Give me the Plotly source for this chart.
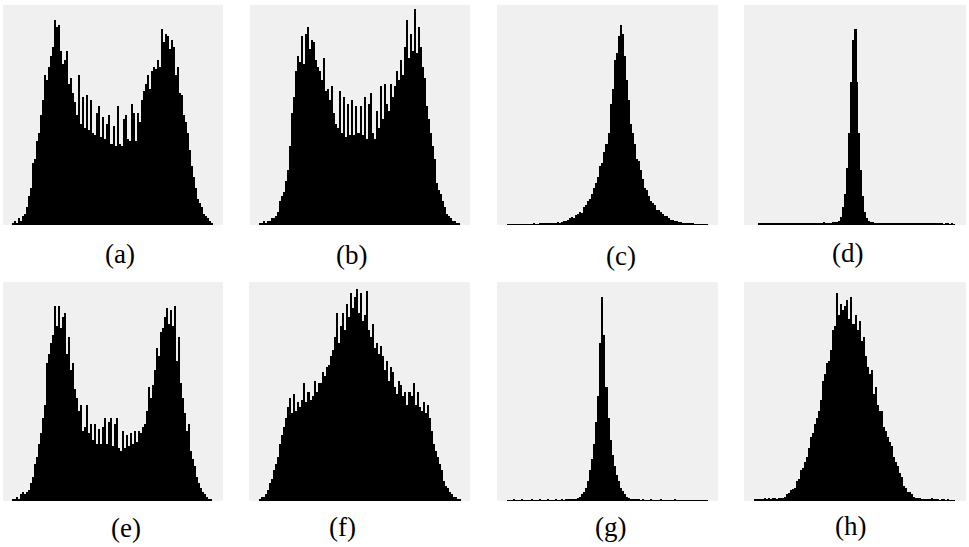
import plotly.graph_objects as go

labels = ["(a)", "(b)", "(c)", "(d)", "(e)", "(f)", "(g)", "(h)"]
bins = list(range(100))

hist_a = [1, 2, 1, 3, 2, 4, 5, 8, 13, 17,
          28, 30, 38, 42, 50, 57, 68, 66, 72, 77,
          81, 93, 90, 91, 79, 73, 75, 79, 64, 67,
          60, 56, 50, 68, 46, 58, 44, 59, 43, 57,
          42, 41, 51, 54, 40, 49, 39, 46, 50, 37,
          45, 36, 54, 37, 36, 48, 50, 39, 38, 55,
          51, 38, 51, 47, 57, 61, 64, 68, 62, 70,
          72, 71, 75, 72, 89, 83, 87, 86, 80, 84,
          81, 68, 72, 60, 59, 50, 47, 42, 34, 27,
          22, 17, 12, 10, 8, 5, 4, 3, 2, 1]

hist_b = [1, 1, 2, 1, 2, 2, 3, 3, 4, 6,
          11, 13, 15, 20, 25, 36, 51, 58, 70, 77,
          74, 86, 73, 87, 90, 80, 84, 83, 75, 72,
          70, 66, 76, 61, 62, 57, 63, 51, 46, 44,
          61, 42, 58, 40, 55, 41, 57, 41, 54, 42,
          54, 41, 58, 39, 55, 60, 42, 39, 52, 44,
          63, 48, 64, 55, 52, 64, 58, 63, 70, 66,
          75, 68, 81, 93, 76, 87, 79, 98, 78, 90,
          81, 72, 67, 54, 48, 42, 36, 30, 19, 16,
          14, 11, 8, 5, 4, 3, 2, 2, 1, 1]

hist_c = [0.2, 0.3, 0.2, 0.3, 0.3, 0.2, 0.3, 0.4, 0.3, 0.3,
          0.3, 0.4, 0.3, 0.5, 0.4, 0.4, 0.5, 0.6, 0.5, 0.6,
          0.7, 0.8, 0.7, 0.9, 1.0, 1.2, 1.1, 1.5, 2.0, 1.8,
          2.5, 3.0, 3.5, 3.0, 4.5, 5.0, 6.0, 5.5, 8.0, 9.0,
          11, 12, 14, 17, 19, 22, 27, 28, 33, 37,
          42, 55, 62, 75, 78, 86, 91, 87, 77, 66,
          57, 46, 42, 37, 30, 29, 25, 21, 17, 16,
          13, 11, 10, 9, 7, 7, 6, 5, 4, 4,
          3, 2.5, 2.5, 2, 1.8, 1.5, 1.2, 1.0, 0.9, 0.8,
          0.6, 0.5, 0.5, 0.4, 0.4, 0.3, 0.4, 0.3, 0.3, 0.2]

hist_d = [0.6, 0.8, 0.5, 0.9, 0.7, 0.6, 1.0, 0.7, 0.8, 0.6,
          0.9, 0.7, 1.0, 0.8, 0.6, 0.9, 1.1, 0.7, 0.8, 1.0,
          0.7, 0.9, 0.6, 0.8, 1.0, 0.7, 0.9, 0.8, 1.1, 0.9,
          0.8, 1.0, 0.9, 1.2, 0.8, 1.0, 1.1, 0.9, 1.2, 1.3,
          1.2, 2.0, 3.5, 8, 14, 26, 42, 65, 84, 89,
          65, 42, 25, 13, 6, 3, 1.8, 1.5, 1.2, 1.0,
          0.9, 1.1, 0.8, 1.0, 0.7, 0.9, 1.0, 0.8, 0.7, 0.9,
          0.6, 0.8, 1.0, 0.7, 0.8, 0.6, 0.9, 0.7, 0.8, 0.6,
          0.7, 0.9, 0.6, 0.8, 0.7, 0.5, 0.8, 0.6, 0.7, 0.5,
          0.6, 0.7, 0.5, 0.6, 0.4, 0.6, 0.5, 0.4, 0.5, 0.4]

hist_e = [1, 1, 2, 1, 3, 4, 3, 4, 5, 8,
          11, 17, 20, 26, 31, 38, 44, 63, 67, 72,
          76, 89, 80, 89, 79, 84, 86, 67, 75, 60,
          63, 51, 47, 41, 44, 32, 34, 44, 31, 35,
          28, 35, 26, 33, 26, 34, 38, 26, 36, 38,
          25, 35, 38, 24, 23, 32, 24, 30, 25, 31,
          26, 32, 27, 32, 31, 34, 35, 41, 52, 47,
          53, 60, 70, 66, 77, 79, 84, 88, 81, 87,
          80, 89, 64, 75, 54, 47, 40, 32, 35, 23,
          19, 16, 11, 8, 6, 4, 3, 2, 1, 1]

hist_f = [1, 2, 2, 3, 5, 8, 10, 14, 17, 20,
          26, 30, 34, 38, 43, 47, 40, 49, 41, 45,
          43, 46, 54, 45, 50, 46, 48, 55, 50, 54,
          54, 59, 57, 61, 62, 66, 69, 75, 86, 72,
          80, 86, 78, 90, 84, 95, 88, 93, 97, 86,
          95, 82, 85, 96, 78, 75, 81, 70, 72, 67,
          71, 66, 60, 64, 55, 61, 59, 52, 49, 55,
          53, 48, 50, 44, 50, 48, 54, 44, 50, 43,
          41, 45, 40, 44, 38, 32, 26, 23, 20, 17,
          14, 9, 7, 6, 4, 3, 2, 2, 1, 1]

hist_g = [0.3, 0.4, 0.3, 0.5, 0.4, 0.3, 0.4, 0.5, 0.3, 0.4,
          0.4, 0.3, 0.5, 0.4, 0.4, 0.3, 0.5, 0.4, 0.3, 0.4,
          0.5, 0.4, 0.3, 0.4, 0.5, 0.4, 0.4, 0.5, 0.4, 0.5,
          0.5, 0.6, 0.7, 0.8, 1.0, 1.5, 2.0, 3, 4, 6,
          9, 14, 19, 26, 36, 48, 72, 93, 76, 52,
          38, 28, 21, 16, 12, 9, 6, 4.5, 3, 2,
          1.5, 1.0, 0.8, 0.6, 0.5, 0.5, 0.4, 0.5, 0.4, 0.3,
          0.4, 0.5, 0.3, 0.4, 0.4, 0.3, 0.5, 0.4, 0.3, 0.4,
          0.4, 0.3, 0.4, 0.5, 0.3, 0.4, 0.3, 0.4, 0.4, 0.3,
          0.4, 0.3, 0.4, 0.3, 0.3, 0.4, 0.3, 0.3, 0.4, 0.3]

hist_h = [0.6, 0.8, 0.5, 1.0, 0.7, 1.2, 0.8, 1.5, 1.0, 1.2,
          1.5, 1.0, 1.3, 1.6, 1.4, 2.0, 3.0, 3.5, 5, 5.5,
          6, 9, 10, 14, 15, 18, 20, 24, 29, 31,
          35, 38, 41, 46, 55, 58, 63, 64, 69, 78,
          80, 95, 85, 90, 87, 89, 92, 83, 93, 81,
          85, 78, 82, 73, 75, 66, 61, 58, 60, 49,
          52, 44, 41, 41, 34, 32, 29, 27, 25, 20,
          18, 16, 13, 11, 7, 6, 4, 4, 3, 2,
          1.6, 1.4, 1.2, 1.0, 0.8, 1.0, 0.6, 0.7, 1.3, 0.6,
          0.5, 0.7, 0.4, 0.5, 0.6, 0.4, 0.5, 0.3, 0.4, 0.3]

series = [hist_a, hist_b, hist_c, hist_d, hist_e, hist_f, hist_g, hist_h]

# ---- layout (pixel geometry) ----
W, H = 969, 547
boxes = [  # (x0, x1, y0, y1) of grey panel, pixels
    (3, 223, 5, 225), (250, 470, 5, 225), (497, 718, 5, 225), (744, 966, 5, 225),
    (3, 223, 282, 501), (249, 470, 282, 501), (497, 718, 282, 501), (744, 966, 282, 501),
]
data_ext = [(12, 213), (259, 460), (507, 708), (758, 955),
            (12, 212), (259, 461), (507, 708), (754, 955)]
label_pos = [(120, 254), (351, 255), (621, 256), (847, 253),
             (126, 528), (342, 527), (610, 527), (850, 526)]

fig = go.Figure()
layout = dict(width=W, height=H, margin=dict(l=0, r=0, t=0, b=0),
              paper_bgcolor="white", plot_bgcolor="#f0f0f0",
              showlegend=False, bargap=0, annotations=[])

for i, vals in enumerate(series):
    n = len(vals)
    ax = "" if i == 0 else str(i + 1)
    bx0, bx1, by0, by1 = boxes[i]
    dx0, dx1 = data_ext[i]
    ppb = (dx1 - dx0) / n
    xr = [-0.5 - (dx0 - bx0) / ppb, n - 0.5 + (bx1 - dx1) / ppb]
    fig.add_trace(go.Bar(x=bins[:n], y=vals, width=1.0,
                         marker=dict(color="black", line=dict(width=0)),
                         xaxis="x" + ax, yaxis="y" + ax, hoverinfo="skip"))
    layout["xaxis" + ax] = dict(domain=[bx0 / W, bx1 / W], range=xr,
                                showgrid=False, zeroline=False, showticklabels=False,
                                showline=False, ticks="", anchor="y" + ax)
    layout["yaxis" + ax] = dict(domain=[1 - by1 / H, 1 - by0 / H], range=[0, 100],
                                showgrid=False, zeroline=False, showticklabels=False,
                                showline=False, ticks="", anchor="x" + ax)
    lx, ly = label_pos[i]
    layout["annotations"].append(dict(
        text=labels[i], x=lx / W, y=1 - ly / H, xref="paper", yref="paper",
        xanchor="center", yanchor="middle", showarrow=False,
        font=dict(family="Liberation Serif, Times New Roman, serif", size=27, color="black")))

fig.update_layout(**layout)
fig.write_html("out.html", config={"displayModeBar": False},
               post_script="document.body.style.margin='0';document.body.style.padding='0';")
